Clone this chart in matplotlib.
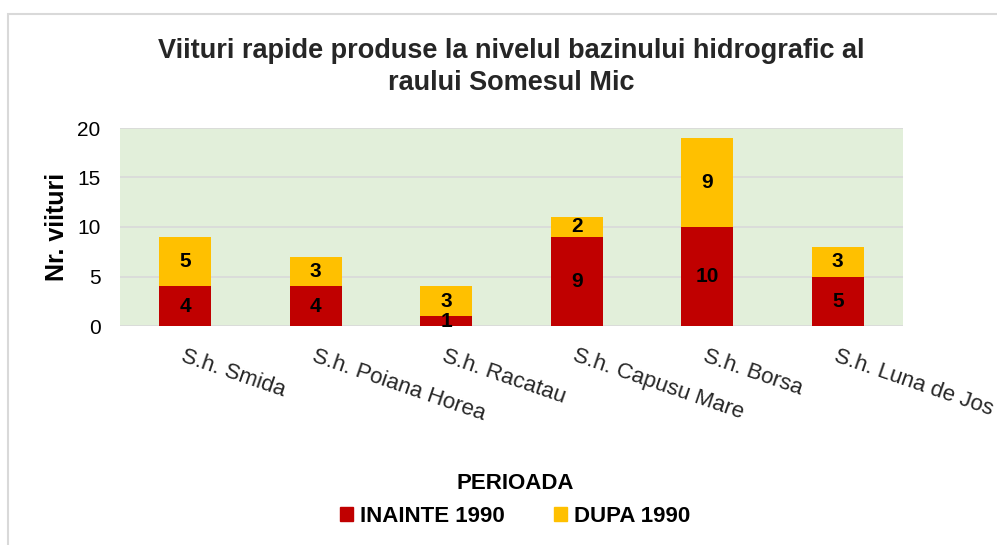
import matplotlib
matplotlib.use("Agg")
import numpy as np
import matplotlib.pyplot as plt
from matplotlib.patches import Rectangle, Patch

plt.rcParams['font.family'] = ['Liberation Sans', 'DejaVu Sans']

# Data
statii = ['S.h. Smida', 'S.h. Poiana Horea', 'S.h. Racatau',
          'S.h. Capusu Mare', 'S.h. Borsa', 'S.h. Luna de Jos']
inainte_1990 = [4, 4, 1, 9, 10, 5]
dupa_1990 = [5, 3, 3, 2, 9, 3]
yticks = [0, 5, 10, 15, 20]

red = '#C00000'
yellow = '#FFC000'

fig = plt.figure(figsize=(9.97, 5.45), dpi=100)
fig.patch.set_facecolor('white')

# chart frame (grey border, only left and top visible in the crop)
fig.patches.append(Rectangle((8 / 997, -0.2), 1.2, 1.2 - 14 / 545,
                             transform=fig.transFigure, fill=False,
                             edgecolor='#D9D9D9', lw=1.5))

ax = fig.add_axes([120 / 997, 1 - 326 / 545, 783 / 997, 198 / 545])
ax.set_facecolor('#E2EFDA')

x = np.arange(len(statii))
b1 = ax.bar(x, inainte_1990, width=0.4, color=red, label='INAINTE 1990', zorder=3)
b2 = ax.bar(x, dupa_1990, width=0.4, bottom=inainte_1990, color=yellow,
            label='DUPA 1990', zorder=3)

ax.bar_label(b1, label_type='center', fontsize=15, fontweight='bold',
             color='black', zorder=4)
ax.bar_label(b2, label_type='center', fontsize=15, fontweight='bold',
             color='black', zorder=4)

ax.set_xlim(-0.5, len(statii) - 0.5)
ax.set_ylim(0, 20)
ax.set_yticks(yticks)
ax.yaxis.grid(True, color='#D9D9D9', lw=1.2, zorder=0)
ax.set_axisbelow(True)
for s in ax.spines.values():
    s.set_visible(False)
ax.tick_params(axis='both', length=0, labelsize=15, colors='black')
ax.tick_params(axis='y', pad=14)
ax.tick_params(axis='x', pad=14)
ax.set_xticks(x)
ax.set_xticklabels(statii, rotation=-19, ha='left', va='top',
                   rotation_mode='anchor', color='#262626', fontsize=16)
ax.set_ylabel('Nr. viituri', fontsize=18, fontweight='bold', labelpad=6)

ax.set_title('Viituri rapide produse la nivelul bazinului hidrografic al\nraului Somesul Mic',
             fontsize=19.5, fontweight='bold', color='#262626', pad=27, linespacing=1.3)

handles = [Patch(color=red), Patch(color=yellow)]
leg = fig.legend(handles, ['INAINTE 1990', 'DUPA 1990'], ncol=2,
                 loc='center', bbox_to_anchor=(515 / 997, 1 - 500 / 545),
                 frameon=False, title='PERIOADA',
                 prop={'size': 16, 'weight': 'bold'},
                 title_fontproperties={'size': 16, 'weight': 'bold'},
                 handlelength=0.6, handleheight=0.6, handletextpad=0.3,
                 columnspacing=2.2)

fig.savefig('out.png', dpi=100)
